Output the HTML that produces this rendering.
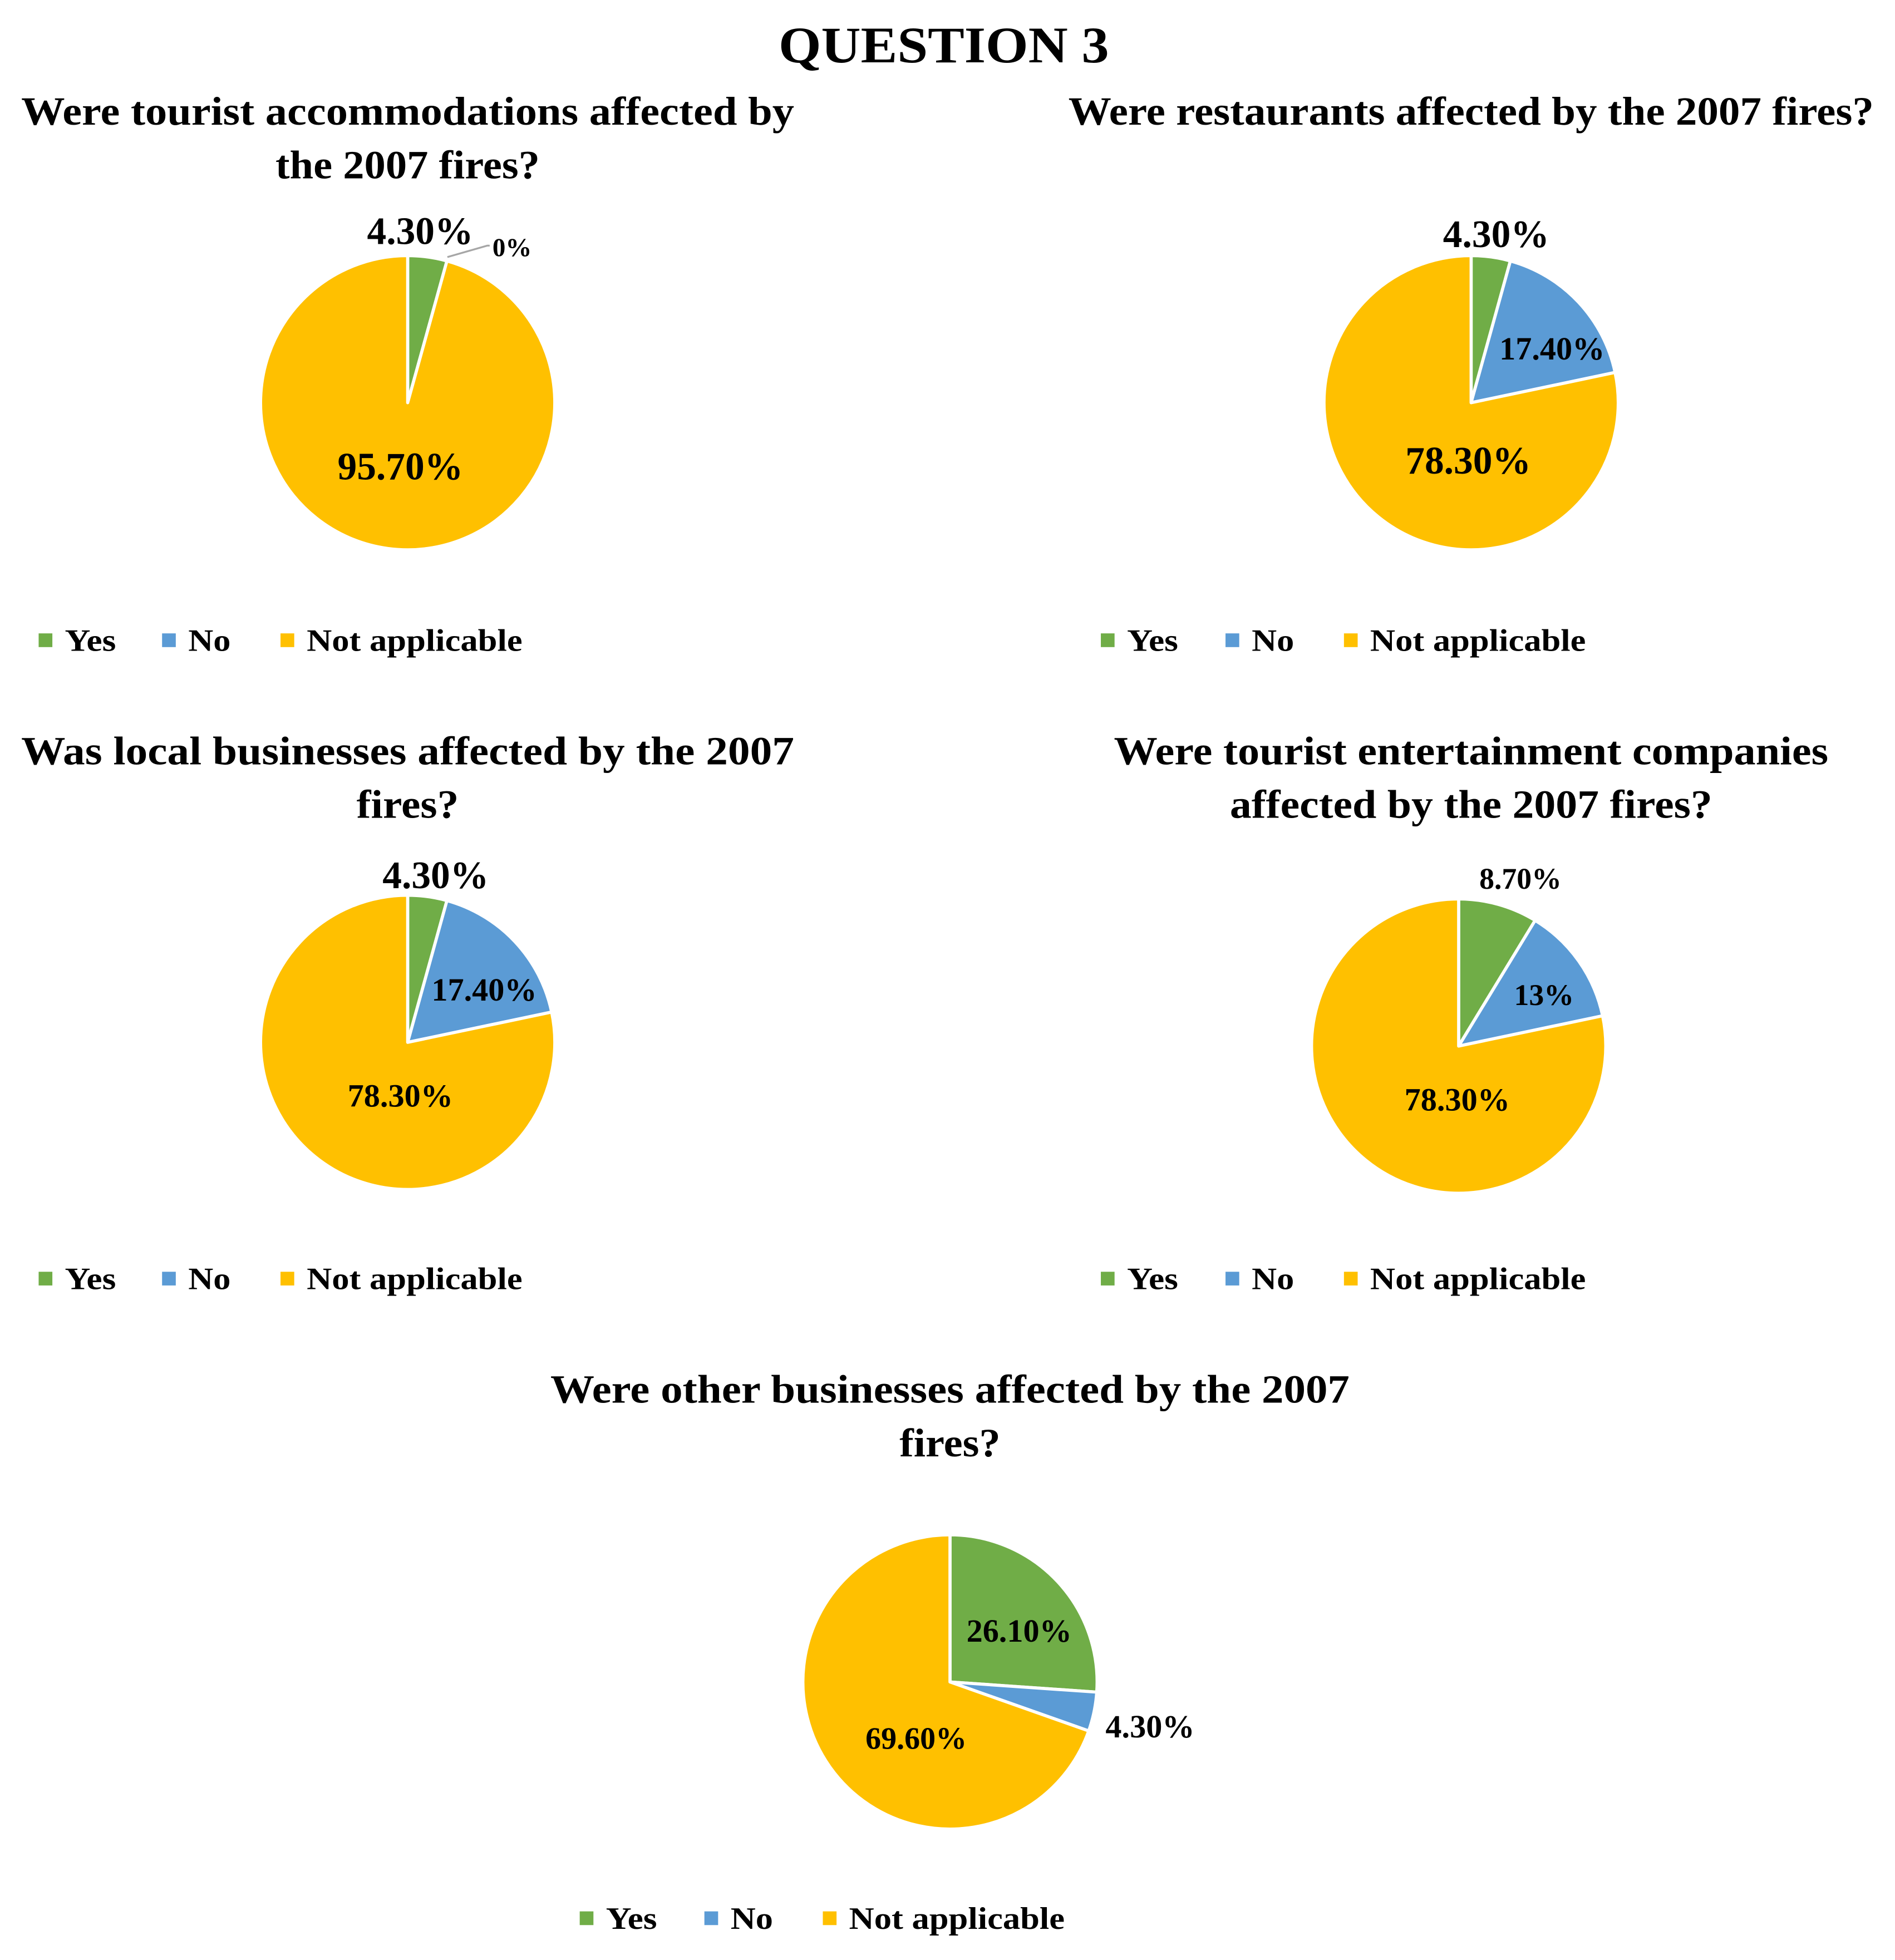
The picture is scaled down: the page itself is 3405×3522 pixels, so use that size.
<!DOCTYPE html>
<html><head><meta charset="utf-8">
<style>
html,body{margin:0;padding:0;background:#fff;}
svg{display:block;font-family:"Liberation Serif",serif;}
</style></head>
<body>
<svg id="chart" width="3405" height="3522" viewBox="0 0 1520 1572" preserveAspectRatio="none" xmlns="http://www.w3.org/2000/svg">
<rect width="1520" height="1572" fill="#fff"/>
<text x="757" y="50" text-anchor="middle" font-size="41" font-weight="bold" textLength="265" lengthAdjust="spacingAndGlyphs">QUESTION 3</text>
</svg>
<script>
const categories = ["Yes","No","Not applicable"];
const colors = ["#70AD47","#5B9BD5","#FFC000"];
const chartTitles = [
  ["Were tourist accommodations affected by","the 2007 fires?"],
  ["Were restaurants affected by the 2007 fires?"],
  ["Was local businesses affected by the 2007","fires?"],
  ["Were tourist entertainment companies","affected by the 2007 fires?"],
  ["Were other businesses affected by the 2007","fires?"]
];
const valuesC1 = [4.3, 0, 95.7];
const valuesC2 = [4.3, 17.4, 78.3];
const valuesC3 = [4.3, 17.4, 78.3];
const valuesC4 = [8.7, 13, 78.3];
const valuesC5 = [26.1, 4.3, 69.6];
const labelsC1 = ["4.30%","0%","95.70%"];
const labelsC2 = ["4.30%","17.40%","78.30%"];
const labelsC3 = ["4.30%","17.40%","78.30%"];
const labelsC4 = ["8.70%","13%","78.30%"];
const labelsC5 = ["26.10%","4.30%","69.60%"];

const layouts = [
  {cx:327,cy:323,r:118,tx:327,ty:[100,143],tw:[620,212],ly:514,lx:[36,135,230],lw:[41,34,173],
   lo:[[0.085,-1.17],[0.71,-1.06],[-0.05,0.43]],fs:[31,21,31],vals:valuesC1,labs:labelsC1},
  {cx:1180,cy:323,r:118,tx:1180,ty:[100],tw:[646],ly:514,lx:[888,988,1083],lw:[41,34,173],
   lo:[[0.17,-1.15],[0.55,-0.37],[-0.02,0.39]],fs:[31,26,31],vals:valuesC2,labs:labelsC2},
  {cx:327,cy:836,r:118,tx:327,ty:[613,656],tw:[620,82],ly:1026,lx:[36,135,230],lw:[41,34,173],
   lo:[[0.19,-1.14],[0.52,-0.36],[-0.05,0.36]],fs:[31,26,26],vals:valuesC3,labs:labelsC3},
  {cx:1170,cy:839,r:118,tx:1180,ty:[613,656],tw:[573,387],ly:1026,lx:[888,988,1083],lw:[41,34,173],
   lo:[[0.42,-1.14],[0.58,-0.35],[-0.01,0.36]],fs:[24,24,26],vals:valuesC4,labs:labelsC4},
  {cx:762,cy:1349,r:118,tx:762,ty:[1125,1168],tw:[641,81],ly:1539,lx:[470,570,665],lw:[41,34,173],
   lo:[[0.47,-0.35],[1.36,0.30],[-0.23,0.38]],fs:[26,26,25],vals:valuesC5,labs:labelsC5}
];
const svg = document.getElementById('chart');
const NS = "http://www.w3.org/2000/svg";
function mk(tag, attrs){const e=document.createElementNS(NS,tag);for(const k in attrs)e.setAttribute(k,attrs[k]);return e;}
function pt(cx,cy,r,frac){const a=frac*2*Math.PI;return [cx+r*Math.sin(a),cy-r*Math.cos(a)];}

layouts.forEach((L,ci)=>{
  const g = mk('g',{});
  
  
  svg.appendChild(g);
  chartTitles[ci].forEach((line,li)=>{
    const t=mk('text',{x:L.tx,y:L.ty[li],'text-anchor':'middle','font-size':32,'font-weight':'bold',textLength:L.tw[li],lengthAdjust:'spacingAndGlyphs'});
    
    
    t.textContent=line; g.appendChild(t);
  });
  const total = L.vals.reduce((a,b)=>a+b,0);
  let acc=0;
  L.vals.forEach((v,i)=>{
    const f0=acc/total, f1=(acc+v)/total; acc+=v;
    if(v<=0) return;
    const [x0,y0]=pt(L.cx,L.cy,L.r,f0), [x1,y1]=pt(L.cx,L.cy,L.r,f1);
    let d;
    if(f1-f0>=0.9999){ d=`M${L.cx-L.r},${L.cy}a${L.r},${L.r} 0 1,0 ${2*L.r},0a${L.r},${L.r} 0 1,0 ${-2*L.r},0Z`; }
    else d=`M${L.cx},${L.cy}L${x0},${y0}A${L.r},${L.r} 0 ${f1-f0>0.5?1:0},1 ${x1},${y1}Z`;
    const p=mk('path',{d:d,fill:colors[i],stroke:'#fff','stroke-width':2.5,'stroke-linejoin':'round'});
    
    
    g.appendChild(p);
  });
  L.labs.forEach((lab,i)=>{
    const x=L.cx+L.lo[i][0]*L.r, y=L.cy+L.lo[i][1]*L.r;
    if(L.vals[i]===0){
      const ln=mk('path',{d:`M${L.cx+0.27*L.r},${L.cy-0.99*L.r}L${x-20},${L.cy-1.00*L.r-8}L${x-18},${L.cy-1.00*L.r-8}`,stroke:'#a6a6a6','stroke-width':1.5,fill:'none'});
      
      
      g.appendChild(ln);
    }
    const t=mk('text',{x:x,y:y+L.fs[i]*0.35,'text-anchor':'middle','font-size':L.fs[i],'font-weight':'bold'});
    
    
    t.textContent=lab; g.appendChild(t);
  });
  categories.forEach((c,i)=>{
    const r=mk('rect',{x:L.lx[i]-5,y:L.ly-6,width:11,height:11,fill:colors[i]});
    
    
    g.appendChild(r);
    const t=mk('text',{x:L.lx[i]+16,y:L.ly+8,'font-size':25,'font-weight':'bold',textLength:L.lw[i],lengthAdjust:'spacingAndGlyphs'});
    
    
    t.textContent=c; g.appendChild(t);
  });
});
</script>
</body></html>
